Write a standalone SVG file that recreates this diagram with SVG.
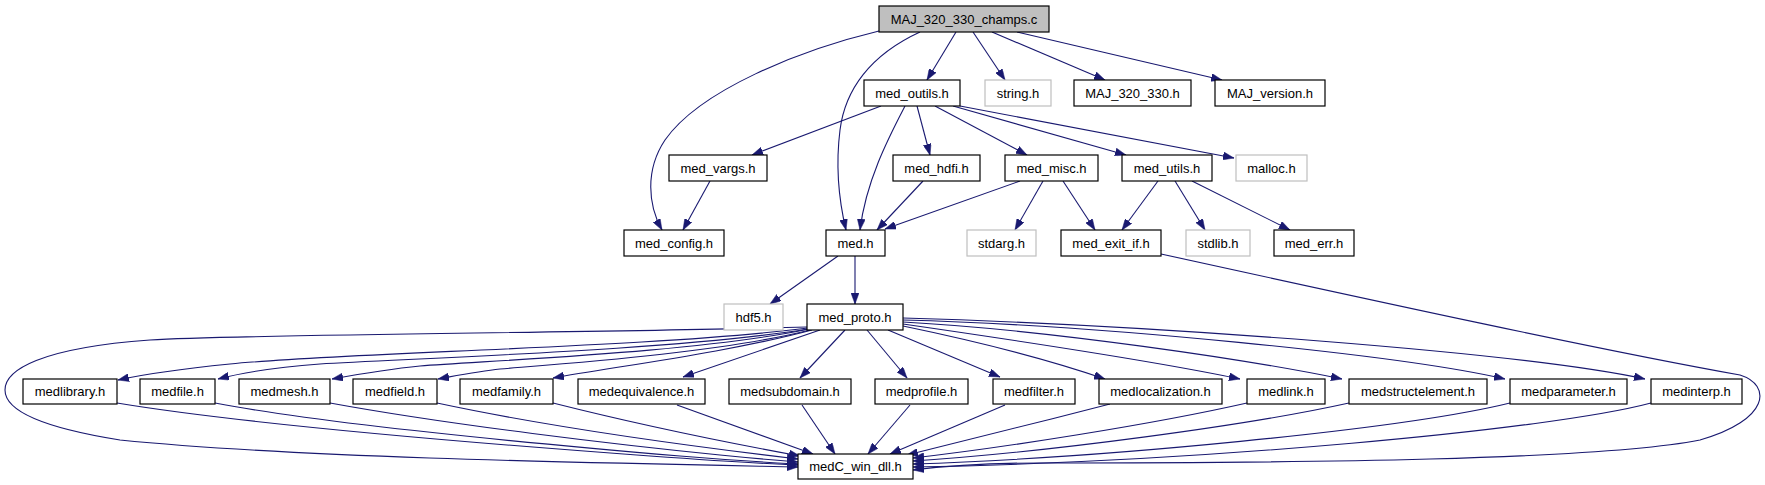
<svg xmlns="http://www.w3.org/2000/svg" width="1765" height="485" viewBox="0 0 1765 485">
<style>
.n rect{fill:#ffffff;stroke:#000000;stroke-width:1.2}
.n.g rect{stroke:#bfbfbf}
.n.root rect{fill:#bfbfbf}
.n text{font-family:"Liberation Sans",Arial,Helvetica,sans-serif;font-size:13px;text-anchor:middle;fill:#000}
.e path{fill:none;stroke:#191970;stroke-width:1.1;marker-end:url(#ah)}
</style>
<defs>
<marker id="ah" viewBox="0 0 11 8" markerWidth="11" markerHeight="8" refX="11" refY="4" orient="auto" markerUnits="userSpaceOnUse">
<path d="M0,0 L11,4 L0,8 z" fill="#191970" stroke="#191970" stroke-width="0.5"/>
</marker>
</defs>
<rect width="1765" height="485" fill="#ffffff"/>
<g id="edges" class="e">
<path d="M879,31 C800,50 700,90 665,140 C645,170 648,205 662,230"/>
<path d="M920,32 C870,55 845,90 840,130 C835,170 840,205 846,230"/>
<path d="M956,32 L927,80"/>
<path d="M973,32 L1005,80"/>
<path d="M992,32 L1105,80"/>
<path d="M1017,32 L1222,80"/>
<path d="M881,106 L752,155"/>
<path d="M905,106 C890,135 866,180 860,230"/>
<path d="M917,106 L930,155"/>
<path d="M935,106 L1027,155"/>
<path d="M953,106 L1126,155"/>
<path d="M960,106 L1234,158"/>
<path d="M710,181 L683,230"/>
<path d="M923,181 L877,230"/>
<path d="M1020,181 L885,229"/>
<path d="M1043,181 L1015,230"/>
<path d="M1063,181 L1095,230"/>
<path d="M1158,181 L1122,230"/>
<path d="M1175,181 L1205,230"/>
<path d="M1192,181 L1290,230"/>
<path d="M838,256 L770,304"/>
<path d="M855,256 L855,304"/>
<path d="M1161,254 C1380,302 1600,350 1740,375 C1772,385 1770,420 1700,440 C1600,460 1300,463 1040,463 C990,463 945,466 913,470"/>
<path d="M808,328 C650,348 350,352 230,364 C180,369 145,374 118,380"/>
<path d="M808,329 C680,350 420,358 320,364 C280,367 245,372 218,379"/>
<path d="M809,329 C700,352 500,360 420,366 C390,369 360,374 332,379"/>
<path d="M810,330 C720,353 560,364 500,369 C480,371 460,375 438,379"/>
<path d="M812,330 C730,352 620,366 553,378"/>
<path d="M820,330 L683,377"/>
<path d="M845,330 L800,378"/>
<path d="M867,330 L907,378"/>
<path d="M888,330 L1000,377"/>
<path d="M903,326 C980,342 1050,360 1105,379"/>
<path d="M903,324 C1000,338 1150,360 1240,379"/>
<path d="M903,322 C1050,330 1250,360 1342,379"/>
<path d="M903,320 C1100,325 1400,355 1505,379"/>
<path d="M903,318 C1150,325 1520,352 1645,379"/>
<path d="M807,327 C600,333 250,334 150,340 C40,348 5,370 5,390 C5,412 45,428 120,440 C300,458 600,463 798,467"/>
<path d="M117,403 C250,425 500,445 650,456 C720,461 770,464 798,465"/>
<path d="M215,403 C330,425 550,445 680,456 C740,461 780,463 798,464"/>
<path d="M330,403 C450,425 620,445 720,455 C760,459 785,461 798,462"/>
<path d="M437,403 C540,425 680,445 798,459"/>
<path d="M553,403 C640,425 740,445 800,456"/>
<path d="M677,405 L813,454"/>
<path d="M802,405 L835,454"/>
<path d="M910,405 L868,454"/>
<path d="M1005,405 L890,454"/>
<path d="M1110,404 C1040,422 960,442 907,455"/>
<path d="M1247,403 C1150,425 1000,448 913,458"/>
<path d="M1349,403 C1250,425 1050,452 913,461"/>
<path d="M1510,403 C1400,430 1100,458 913,464"/>
<path d="M1651,403 C1550,430 1200,462 913,467"/>
</g>
<g id="n_champs" class="n root"><rect x="879" y="6" width="170" height="26"/><text x="964" y="23.5">MAJ_320_330_champs.c</text></g>
<g id="n_med_outils" class="n"><rect x="864" y="80" width="96" height="26"/><text x="912" y="97.5">med_outils.h</text></g>
<g id="n_string" class="n g"><rect x="985" y="80" width="66" height="26"/><text x="1018" y="97.5">string.h</text></g>
<g id="n_maj320330" class="n"><rect x="1074" y="80" width="117" height="26"/><text x="1132.5" y="97.5">MAJ_320_330.h</text></g>
<g id="n_majversion" class="n"><rect x="1215" y="80" width="110" height="26"/><text x="1270" y="97.5">MAJ_version.h</text></g>
<g id="n_med_vargs" class="n"><rect x="669" y="155" width="98" height="26"/><text x="718" y="172.5">med_vargs.h</text></g>
<g id="n_med_hdfi" class="n"><rect x="893" y="155" width="87" height="26"/><text x="936.5" y="172.5">med_hdfi.h</text></g>
<g id="n_med_misc" class="n"><rect x="1005" y="155" width="93" height="26"/><text x="1051.5" y="172.5">med_misc.h</text></g>
<g id="n_med_utils" class="n"><rect x="1122" y="155" width="90" height="26"/><text x="1167" y="172.5">med_utils.h</text></g>
<g id="n_malloc" class="n g"><rect x="1236" y="155" width="71" height="26"/><text x="1271.5" y="172.5">malloc.h</text></g>
<g id="n_med_config" class="n"><rect x="624" y="230" width="100" height="26"/><text x="674" y="247.5">med_config.h</text></g>
<g id="n_med" class="n"><rect x="826" y="230" width="59" height="26"/><text x="855.5" y="247.5">med.h</text></g>
<g id="n_stdarg" class="n g"><rect x="967" y="230" width="69" height="26"/><text x="1001.5" y="247.5">stdarg.h</text></g>
<g id="n_med_exit_if" class="n"><rect x="1061" y="230" width="100" height="26"/><text x="1111" y="247.5">med_exit_if.h</text></g>
<g id="n_stdlib" class="n g"><rect x="1186" y="230" width="64" height="26"/><text x="1218" y="247.5">stdlib.h</text></g>
<g id="n_med_err" class="n"><rect x="1274" y="230" width="80" height="26"/><text x="1314" y="247.5">med_err.h</text></g>
<g id="n_hdf5" class="n g"><rect x="724" y="304" width="59" height="26"/><text x="753.5" y="321.5">hdf5.h</text></g>
<g id="n_med_proto" class="n"><rect x="807" y="304" width="96" height="26"/><text x="855" y="321.5">med_proto.h</text></g>
<g id="n_medlibrary" class="n"><rect x="23" y="379" width="94" height="25"/><text x="70" y="396">medlibrary.h</text></g>
<g id="n_medfile" class="n"><rect x="140" y="379" width="75" height="25"/><text x="177.5" y="396">medfile.h</text></g>
<g id="n_medmesh" class="n"><rect x="239" y="379" width="91" height="25"/><text x="284.5" y="396">medmesh.h</text></g>
<g id="n_medfield" class="n"><rect x="353" y="379" width="84" height="25"/><text x="395" y="396">medfield.h</text></g>
<g id="n_medfamily" class="n"><rect x="460" y="379" width="93" height="25"/><text x="506.5" y="396">medfamily.h</text></g>
<g id="n_medequivalence" class="n"><rect x="578" y="379" width="127" height="25"/><text x="641.5" y="396">medequivalence.h</text></g>
<g id="n_medsubdomain" class="n"><rect x="729" y="379" width="122" height="25"/><text x="790" y="396">medsubdomain.h</text></g>
<g id="n_medprofile" class="n"><rect x="875" y="379" width="93" height="25"/><text x="921.5" y="396">medprofile.h</text></g>
<g id="n_medfilter" class="n"><rect x="993" y="379" width="82" height="25"/><text x="1034" y="396">medfilter.h</text></g>
<g id="n_medlocalization" class="n"><rect x="1099" y="379" width="123" height="25"/><text x="1160.5" y="396">medlocalization.h</text></g>
<g id="n_medlink" class="n"><rect x="1247" y="379" width="78" height="25"/><text x="1286" y="396">medlink.h</text></g>
<g id="n_medstructelement" class="n"><rect x="1349" y="379" width="138" height="25"/><text x="1418" y="396">medstructelement.h</text></g>
<g id="n_medparameter" class="n"><rect x="1510" y="379" width="117" height="25"/><text x="1568.5" y="396">medparameter.h</text></g>
<g id="n_medinterp" class="n"><rect x="1651" y="379" width="91" height="25"/><text x="1696.5" y="396">medinterp.h</text></g>
<g id="n_medC_win_dll" class="n"><rect x="798" y="454" width="115" height="25"/><text x="855.5" y="471">medC_win_dll.h</text></g>
</svg>
